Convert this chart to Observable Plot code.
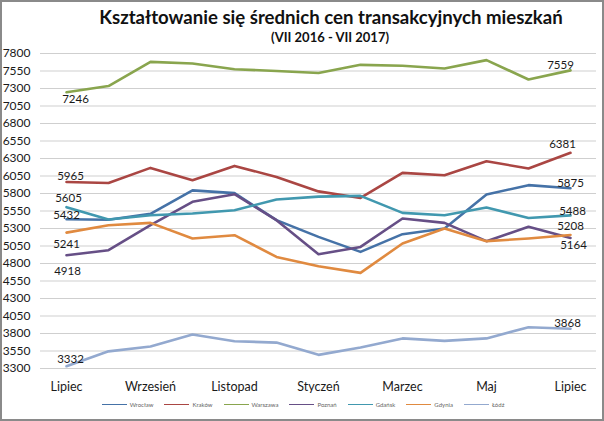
<!DOCTYPE html>
<html>
<head>
<meta charset="utf-8">
<script src="https://cdn.jsdelivr.net/npm/d3@7"></script>
<script src="https://cdn.jsdelivr.net/npm/@observablehq/plot@0.6"></script>
<style>
  html, body { margin: 0; padding: 0; background: #fff; }
  #wrap { position: relative; width: 604px; height: 421px; overflow: hidden; font-family: Lato, "Open Sans", sans-serif; background:#fff; }
  #wrap svg { position: absolute; left: 0; top: 0; }
  #title { position: absolute; left: 0; width: 662px; top: 6px; text-align: center; font-weight: bold; font-size: 18.6px; color: #111; }
  #subtitle { position: absolute; left: 0; width: 660px; top: 29px; text-align: center; font-weight: bold; font-size: 13px; color: #111; }
  #legend { position: absolute; left: 0; width: 606px; top: 401px; display: flex; justify-content: center; gap: 11px; font-size: 6px; color: #666; }
  #legend .item { display: flex; align-items: center; }
  #legend .sw { width: 25px; height: 1.5px; margin-right: 3px; }
  #frame { position: absolute; inset: 0; border: 2px solid #8a8a8a; box-sizing: border-box; pointer-events: none; }
</style>
</head>
<body>
<div id="wrap">
  <div id="title">Kształtowanie się średnich cen transakcyjnych mieszkań</div>
  <div id="subtitle">(VII 2016 - VII 2017)</div>
  <div id="legend"></div>
  <div id="frame"></div>
</div>
<script>
const months = ["Lipiec","Sierpień","Wrzesień","Październik","Listopad","Grudzień","Styczeń","Luty","Marzec","Kwiecień","Maj","Czerwiec","Lipiec"];
const cities = ["Wrocław","Kraków","Warszawa","Poznań","Gdańsk","Gdynia","Łódź"];
const wroclaw  = [5432, 5425, 5510, 5845, 5805, 5420, 5180, 4966, 5219, 5300, 5786, 5919, 5875];
const krakow   = [5965, 5951, 6166, 5990, 6194, 6037, 5830, 5737, 6094, 6061, 6261, 6157, 6381];
const warszawa = [7246, 7335, 7681, 7657, 7576, 7550, 7521, 7638, 7624, 7586, 7705, 7429, 7559];
const poznan   = [4918, 4990, 5347, 5681, 5790, 5419, 4933, 5037, 5443, 5380, 5119, 5324, 5164];
const gdansk   = [5605, 5429, 5490, 5514, 5561, 5714, 5756, 5766, 5523, 5490, 5600, 5451, 5488];
const gdynia   = [5241, 5347, 5380, 5157, 5204, 4894, 4760, 4666, 5086, 5300, 5119, 5157, 5208];
const lodz     = [3332, 3545, 3615, 3785, 3690, 3670, 3495, 3600, 3730, 3695, 3730, 3890, 3868];
const yTicks = d3.range(3300, 7801, 250);
const xTicks = [0, 2, 4, 6, 8, 10, 12];

const seriesValues = [wroclaw, krakow, warszawa, poznan, gdansk, gdynia, lodz];
const colors = ["#4572A7", "#AA4643", "#89A54E", "#664F86", "#4198AF", "#E08A40", "#93A9CF"];

const rows = [];
cities.forEach((c, ci) => seriesValues[ci].forEach((v, i) => rows.push({city: c, i, v})));

// labelled points (first and last of each series) with text offsets
const labelStyle = [
  {city: "Warszawa", i: 0, dx: 9, dy: 7},
  {city: "Kraków", i: 0, dx: 4, dy: -6},
  {city: "Gdańsk", i: 0, dx: 2, dy: -9},
  {city: "Wrocław", i: 0, dx: 0, dy: -4},
  {city: "Gdynia", i: 0, dx: 0, dy: 12},
  {city: "Poznań", i: 0, dx: 1, dy: 16},
  {city: "Łódź", i: 0, dx: 4, dy: -7},
  {city: "Warszawa", i: 12, dx: -10, dy: -5},
  {city: "Kraków", i: 12, dx: -8, dy: -9},
  {city: "Wrocław", i: 12, dx: 0, dy: -5},
  {city: "Gdańsk", i: 12, dx: 2, dy: -4},
  {city: "Gdynia", i: 12, dx: 0, dy: -9},
  {city: "Poznań", i: 12, dx: 3, dy: 7},
  {city: "Łódź", i: 12, dx: -3, dy: -5}
];

const labelMarks = labelStyle.map(s => {
  const d = rows.filter(r => r.city === s.city && r.i === s.i);
  return Plot.text(d, {x: "i", y: "v", text: r => String(r.v), dx: s.dx, dy: s.dy, fill: "#1a1a1a", fontSize: 11.5});
});

const chart = Plot.plot({
  width: 604,
  height: 421,
  marginTop: 53,
  marginBottom: 53,
  marginLeft: 40,
  marginRight: 8,
  style: {fontFamily: "Lato, 'Open Sans', sans-serif", fontSize: "12px", color: "#1a1a1a", background: "transparent"},
  x: {type: "point", domain: d3.range(13), padding: 0.5, label: null},
  y: {domain: [3300, 7800], label: null},
  color: {domain: cities, range: colors},
  marks: [
    Plot.ruleY(yTicks, {stroke: "#cfcfcf", strokeWidth: 1}),
    Plot.axisY({ticks: yTicks, tickSize: 0, tickPadding: 10, tickFormat: d => String(d), label: null, fontSize: 12}),
    Plot.axisX({ticks: xTicks, tickSize: 0, tickPadding: 14, tickFormat: i => months[i], label: null, fontSize: 12.5}),
    Plot.line(rows, {x: "i", y: "v", z: "city", stroke: "city", strokeWidth: 2.6, curve: "linear"}),
    ...labelMarks
  ]
});
document.getElementById("wrap").insertBefore(chart, document.getElementById("title"));

const legend = document.getElementById("legend");
cities.forEach((c, ci) => {
  const item = document.createElement("div");
  item.className = "item";
  const sw = document.createElement("span");
  sw.className = "sw";
  sw.style.background = colors[ci];
  const t = document.createElement("span");
  t.textContent = c;
  item.appendChild(sw);
  item.appendChild(t);
  legend.appendChild(item);
});
</script>
</body>
</html>
